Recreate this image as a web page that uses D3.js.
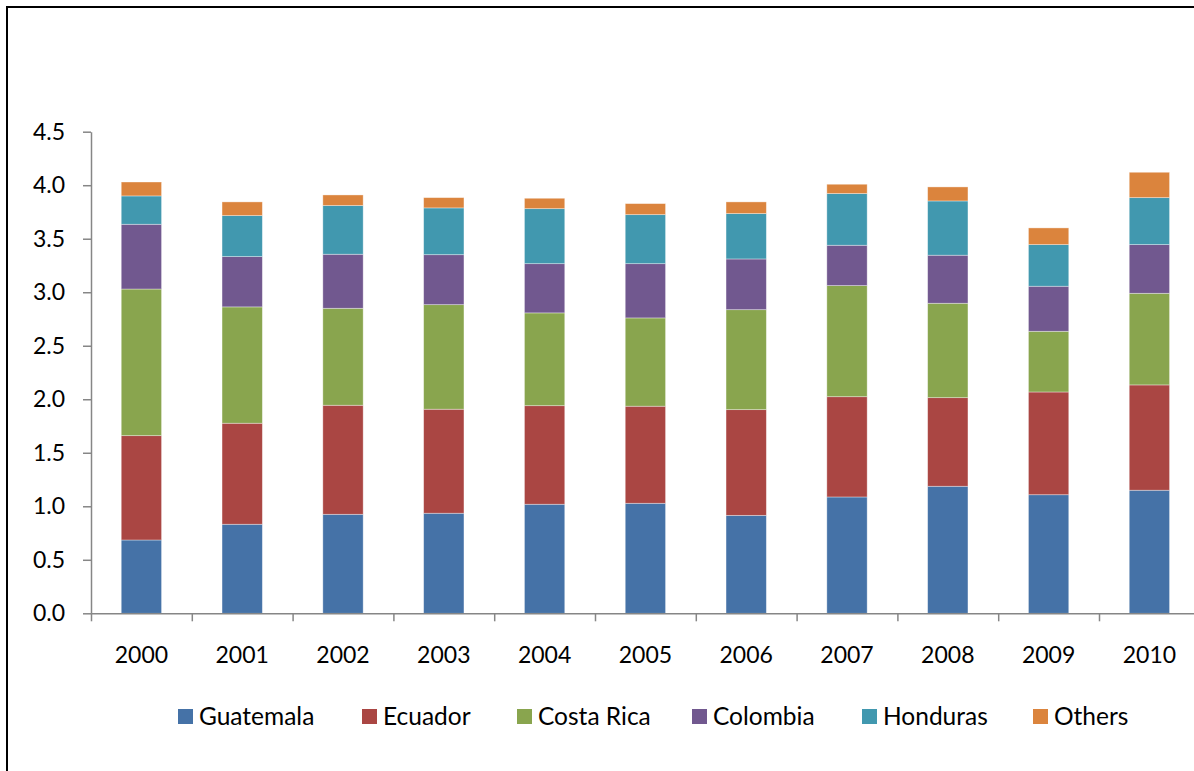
<!DOCTYPE html>
<html>
<head>
<meta charset="utf-8">
<script src="https://cdn.jsdelivr.net/npm/d3@7"></script>
<style>
  html, body { margin: 0; padding: 0; background: #fff; }
  svg { display: block; }
  text { font-family: Lato, "Open Sans", sans-serif; fill: #000; }
</style>
</head>
<body>
<svg id="chart" width="1194" height="771"></svg>
<script>
const years = ["2000","2001","2002","2003","2004","2005","2006","2007","2008","2009","2010"];
const seriesNames = ["Guatemala","Ecuador","Costa Rica","Colombia","Honduras","Others"];
const guatemala = [0.685, 0.832, 0.925, 0.935, 1.019, 1.028, 0.915, 1.087, 1.187, 1.108, 1.150];
const ecuador   = [0.975, 0.944, 1.019, 0.972, 0.921, 0.907, 0.988, 0.937, 0.828, 0.960, 0.984];
const costaRica = [1.370, 1.087, 0.906, 0.977, 0.867, 0.825, 0.934, 1.038, 0.882, 0.567, 0.856];
const colombia  = [0.605, 0.470, 0.505, 0.467, 0.460, 0.507, 0.474, 0.377, 0.449, 0.421, 0.455];
const honduras  = [0.265, 0.383, 0.455, 0.437, 0.514, 0.458, 0.424, 0.483, 0.507, 0.389, 0.439];
const others    = [0.130, 0.128, 0.099, 0.096, 0.097, 0.103, 0.109, 0.087, 0.131, 0.156, 0.237];
const yTicks = [0, 0.5, 1.0, 1.5, 2.0, 2.5, 3.0, 3.5, 4.0, 4.5];
const colors = ["#4572A7","#AA4643","#89A54E","#71588F","#4198AF","#DB843D"];

const seriesValues = [guatemala, ecuador, costaRica, colombia, honduras, others];
const table = years.map((yr, i) => {
  const row = { year: yr };
  seriesNames.forEach((s, j) => row[s] = seriesValues[j][i]);
  return row;
});

const svg = d3.select("#chart");

// outer frame
svg.append("rect")
  .attr("x", 7).attr("y", 7).attr("width", 1210).attr("height", 800)
  .attr("fill", "none").attr("stroke", "#000").attr("stroke-width", 2);

const x0 = 91, step = 100.8;
const x = d3.scaleBand().domain(years)
  .range([x0, x0 + step * years.length])
  .paddingInner(0.6).paddingOuter(0.3);
const y = d3.scaleLinear().domain([0, 4.5]).range([613.3, 131.7]);

const stack = d3.stack().keys(seriesNames);
const stacked = stack(table);

const gBars = svg.append("g");
gBars.selectAll("g.series")
  .data(stacked)
  .join("g")
  .attr("class", "series")
  .attr("fill", (d, i) => colors[i])
  .selectAll("rect")
  .data(d => d)
  .join("rect")
  .attr("x", d => x(d.data.year))
  .attr("width", x.bandwidth())
  .attr("y", d => y(d[1]))
  .attr("height", d => y(d[0]) - y(d[1]))
  .attr("stroke", "#fff")
  .attr("stroke-opacity", 0.45)
  .attr("stroke-width", 0.8);

// Y axis
const yAxis = svg.append("g")
  .attr("transform", `translate(${x0},0)`)
  .call(d3.axisLeft(y).tickValues(yTicks).tickFormat(d3.format(".1f")).tickSize(8).tickSizeOuter(0).tickPadding(18));
yAxis.select(".domain").attr("stroke", "#868686").attr("stroke-width", 1.5);
yAxis.selectAll(".tick line").attr("stroke", "#868686").attr("stroke-width", 1.5);
yAxis.selectAll(".tick text").attr("font-size", 23).attr("font-family", "Lato, 'Open Sans', sans-serif").attr("fill", "#000");

// X axis: line + boundary ticks
const xb = d3.scaleLinear().domain([0, years.length]).range([x0, x0 + step * years.length]);
const xAxis = svg.append("g")
  .attr("transform", `translate(0,${y(0)})`)
  .call(d3.axisBottom(xb).tickValues(d3.range(0, years.length + 1)).tickFormat("").tickSize(8).tickSizeOuter(0));
xAxis.select(".domain").attr("stroke", "#868686").attr("stroke-width", 1.5);
xAxis.selectAll(".tick line").attr("stroke", "#868686").attr("stroke-width", 1.5);

// X labels
const xLab = svg.append("g")
  .attr("transform", `translate(0,${y(0)})`)
  .call(d3.axisBottom(x).tickSize(0).tickPadding(33));
xLab.select(".domain").remove();
xLab.selectAll(".tick text").attr("font-size", 23).attr("font-family", "Lato, 'Open Sans', sans-serif").attr("fill", "#000");

// Legend
const legendX = [178, 362, 517, 692, 862, 1033];
const legend = svg.append("g");
const items = legend.selectAll("g").data(seriesNames).join("g")
  .attr("transform", (d, i) => `translate(${legendX[i]},709)`);
items.append("rect").attr("width", 15).attr("height", 15).attr("fill", (d, i) => colors[i]);
items.append("text").attr("x", 21).attr("y", 15.5).attr("font-size", 24.5).text(d => d);
</script>
</body>
</html>
